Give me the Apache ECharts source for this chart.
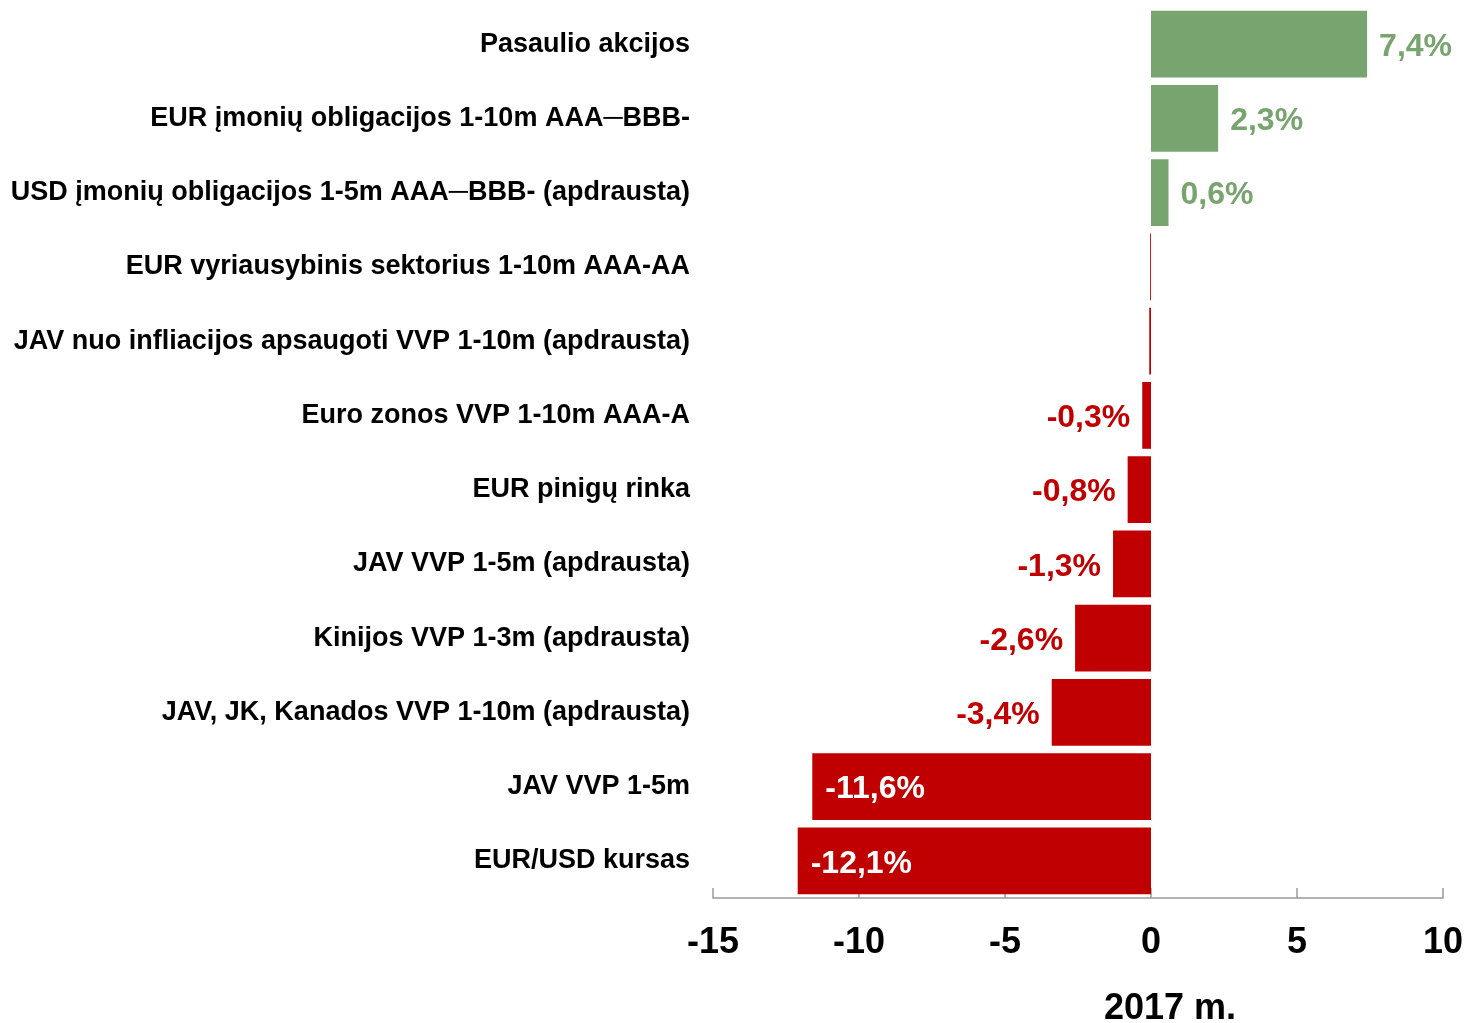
<!DOCTYPE html>
<html>
<head>
<meta charset="utf-8">
<script src="https://cdn.jsdelivr.net/npm/echarts@6/dist/echarts.min.js"></script>
<style>
  html, body { margin: 0; padding: 0; background: #fff; }
  #main { width: 1467px; height: 1023px; }
</style>
</head>
<body>
<div id="main"></div>
<script>
const categories = [
  'Pasaulio akcijos',
  'EUR įmonių obligacijos 1-10m AAA\u2500BBB-',
  'USD įmonių obligacijos 1-5m AAA\u2500BBB- (apdrausta)',
  'EUR vyriausybinis sektorius 1-10m AAA-AA',
  'JAV nuo infliacijos apsaugoti VVP 1-10m (apdrausta)',
  'Euro zonos VVP 1-10m AAA-A',
  'EUR pinigų rinka',
  'JAV VVP 1-5m (apdrausta)',
  'Kinijos VVP 1-3m (apdrausta)',
  'JAV, JK, Kanados VVP 1-10m (apdrausta)',
  'JAV VVP 1-5m',
  'EUR/USD kursas'
];
const values = [7.4, 2.3, 0.6, -0.03, -0.06, -0.3, -0.8, -1.3, -2.6, -3.4, -11.6, -12.1];
const valueLabels = ['7,4%', '2,3%', '0,6%', '', '', '-0,3%', '-0,8%', '-1,3%', '-2,6%', '-3,4%', '-11,6%', '-12,1%'];
const xTicks = [-15, -10, -5, 0, 5, 10];

const green = '#77a46f';
const red = '#c00000';
const font = 'Arial, "Liberation Sans", sans-serif';

const chart = echarts.init(document.getElementById('main'));

const barData = values.map(function (v, i) {
  let label;
  if (!valueLabels[i]) {
    label = { show: false };
  } else if (v > 0) {
    label = { show: true, position: 'right', distance: 12, color: green };
  } else if (v < -10) {
    label = { show: true, position: 'insideLeft', distance: 13, color: '#fff' };
  } else {
    label = { show: true, position: 'left', distance: 12, color: red };
  }
  return {
    value: v,
    itemStyle: { color: v > 0 ? green : red },
    label: label
  };
});

const option = {
  animation: false,
  grid: { left: 713, right: 24, top: 7, bottom: 125, containLabel: false },
  xAxis: {
    type: 'value',
    min: xTicks[0],
    max: xTicks[xTicks.length - 1],
    interval: 5,
    splitLine: { show: false },
    axisLine: { show: true, onZero: false, lineStyle: { color: '#999', width: 1.5 } },
    axisTick: { show: true, inside: true, length: 10, lineStyle: { color: '#999', width: 1.5 } },
    axisLabel: {
      margin: 27,
      fontSize: 36,
      fontWeight: 'bold',
      fontFamily: font,
      color: '#000'
    }
  },
  yAxis: {
    type: 'category',
    inverse: true,
    data: categories,
    axisLine: { show: false },
    axisTick: { show: false },
    axisLabel: {
      margin: 23,
      fontSize: 27,
      fontWeight: 'bold',
      fontFamily: font,
      color: '#000'
    }
  },
  graphic: [{
    type: 'text',
    x: 1170,
    y: 1009,
    style: {
      text: '2017 m.',
      font: 'bold 36px ' + font,
      fill: '#000',
      textAlign: 'center',
      textVerticalAlign: 'middle'
    }
  }],
  series: [{
    type: 'bar',
    barCategoryGap: '10%',
    data: barData,
    label: {
      fontSize: 32,
      fontWeight: 'bold',
      fontFamily: font,
      offset: [0, 3],
      formatter: function (p) { return valueLabels[p.dataIndex]; }
    }
  }]
};

chart.setOption(option);
</script>
</body>
</html>
